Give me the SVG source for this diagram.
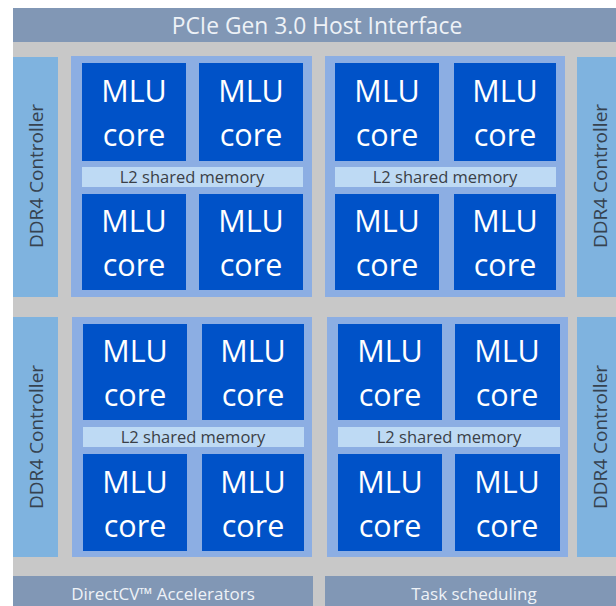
<svg xmlns="http://www.w3.org/2000/svg" width="616" height="606" viewBox="0 0 616 606">
<style>
.bg{fill:#c8c8c8}
.bar{fill:#8197b5}
.ddr{fill:#7fb3df}
.cl{fill:#8caee3}
.core{fill:#0052c8}
.l2{fill:#bedaf4}
text{font-family:"Open Sans","Liberation Sans",sans-serif}
.t-core{fill:#ffffff;font-size:30.5px;text-anchor:middle}
.t-bar{fill:#eef2f7;font-size:22.8px;text-anchor:middle}
.t-bot{fill:#eef2f7;font-size:17px;text-anchor:middle}
.t-l2{fill:#3a3f47;font-size:16.5px;text-anchor:middle}
.t-ddr{fill:#36424f;font-size:19px;text-anchor:middle}
</style>
<rect x="0" y="0" width="616" height="606" fill="#ffffff"/>
<rect class="bg" x="13" y="8" width="603" height="598"/>
<g id="pcie">
<rect class="bar" x="13" y="8" width="603" height="34"/>
<text class="t-bar" x="317" y="34">PCIe Gen 3.0 Host Interface</text>
</g>
<g id="ddr-tl">
<rect class="ddr" x="13" y="57" width="45" height="240"/>
<text class="t-ddr" transform="translate(43,176) rotate(-90)">DDR4 Controller</text>
</g>
<g id="ddr-bl">
<rect class="ddr" x="13" y="317" width="45" height="240"/>
<text class="t-ddr" transform="translate(43,437) rotate(-90)">DDR4 Controller</text>
</g>
<g id="ddr-tr">
<rect class="ddr" x="577" y="57" width="39" height="240"/>
<text class="t-ddr" transform="translate(607,176) rotate(-90)">DDR4 Controller</text>
</g>
<g id="ddr-br">
<rect class="ddr" x="577" y="317" width="39" height="240"/>
<text class="t-ddr" transform="translate(607,437) rotate(-90)">DDR4 Controller</text>
</g>
<g id="cluster-tl">
<rect class="cl" x="71" y="56" width="241" height="241"/>
<rect class="core" x="82" y="63" width="104" height="98"/>
<text class="t-core" x="134" y="102">MLU</text><text class="t-core" x="134" y="146">core</text>
<rect class="core" x="199" y="63" width="104" height="98"/>
<text class="t-core" x="251" y="102">MLU</text><text class="t-core" x="251" y="146">core</text>
<rect class="l2" x="82" y="167" width="221" height="20"/>
<text class="t-l2" x="192" y="183">L2 shared memory</text>
<rect class="core" x="82" y="194" width="104" height="96"/>
<text class="t-core" x="134" y="232">MLU</text><text class="t-core" x="134" y="276">core</text>
<rect class="core" x="199" y="194" width="104" height="96"/>
<text class="t-core" x="251" y="232">MLU</text><text class="t-core" x="251" y="276">core</text>
</g>
<g id="cluster-tr">
<rect class="cl" x="325" y="56" width="240" height="241"/>
<rect class="core" x="335" y="63" width="104" height="98"/>
<text class="t-core" x="387" y="102">MLU</text><text class="t-core" x="387" y="146">core</text>
<rect class="core" x="454" y="63" width="102" height="98"/>
<text class="t-core" x="505" y="102">MLU</text><text class="t-core" x="505" y="146">core</text>
<rect class="l2" x="335" y="167" width="221" height="20"/>
<text class="t-l2" x="445" y="183">L2 shared memory</text>
<rect class="core" x="335" y="194" width="104" height="96"/>
<text class="t-core" x="387" y="232">MLU</text><text class="t-core" x="387" y="276">core</text>
<rect class="core" x="454" y="194" width="102" height="96"/>
<text class="t-core" x="505" y="232">MLU</text><text class="t-core" x="505" y="276">core</text>
</g>
<g id="cluster-bl">
<rect class="cl" x="72" y="317" width="240" height="240"/>
<rect class="core" x="83" y="324" width="104" height="96"/>
<text class="t-core" x="135" y="362">MLU</text><text class="t-core" x="135" y="406">core</text>
<rect class="core" x="202" y="324" width="102" height="96"/>
<text class="t-core" x="253" y="362">MLU</text><text class="t-core" x="253" y="406">core</text>
<rect class="l2" x="83" y="427" width="221" height="20"/>
<text class="t-l2" x="193" y="443">L2 shared memory</text>
<rect class="core" x="83" y="454" width="104" height="97"/>
<text class="t-core" x="135" y="493">MLU</text><text class="t-core" x="135" y="537">core</text>
<rect class="core" x="202" y="454" width="102" height="97"/>
<text class="t-core" x="253" y="493">MLU</text><text class="t-core" x="253" y="537">core</text>
</g>
<g id="cluster-br">
<rect class="cl" x="327" y="317" width="241" height="240"/>
<rect class="core" x="338" y="324" width="104" height="96"/>
<text class="t-core" x="390" y="362">MLU</text><text class="t-core" x="390" y="406">core</text>
<rect class="core" x="455" y="324" width="105" height="96"/>
<text class="t-core" x="507" y="362">MLU</text><text class="t-core" x="507" y="406">core</text>
<rect class="l2" x="338" y="427" width="222" height="20"/>
<text class="t-l2" x="449" y="443">L2 shared memory</text>
<rect class="core" x="338" y="454" width="104" height="97"/>
<text class="t-core" x="390" y="493">MLU</text><text class="t-core" x="390" y="537">core</text>
<rect class="core" x="455" y="454" width="105" height="97"/>
<text class="t-core" x="507" y="493">MLU</text><text class="t-core" x="507" y="537">core</text>
</g>
<g id="directcv">
<rect class="bar" x="13" y="576" width="300" height="30"/>
<text class="t-bot" x="163" y="600">DirectCV™ Accelerators</text>
</g>
<g id="task">
<rect class="bar" x="325" y="576" width="291" height="30"/>
<text class="t-bot" x="474" y="600">Task scheduling</text>
</g>
</svg>
